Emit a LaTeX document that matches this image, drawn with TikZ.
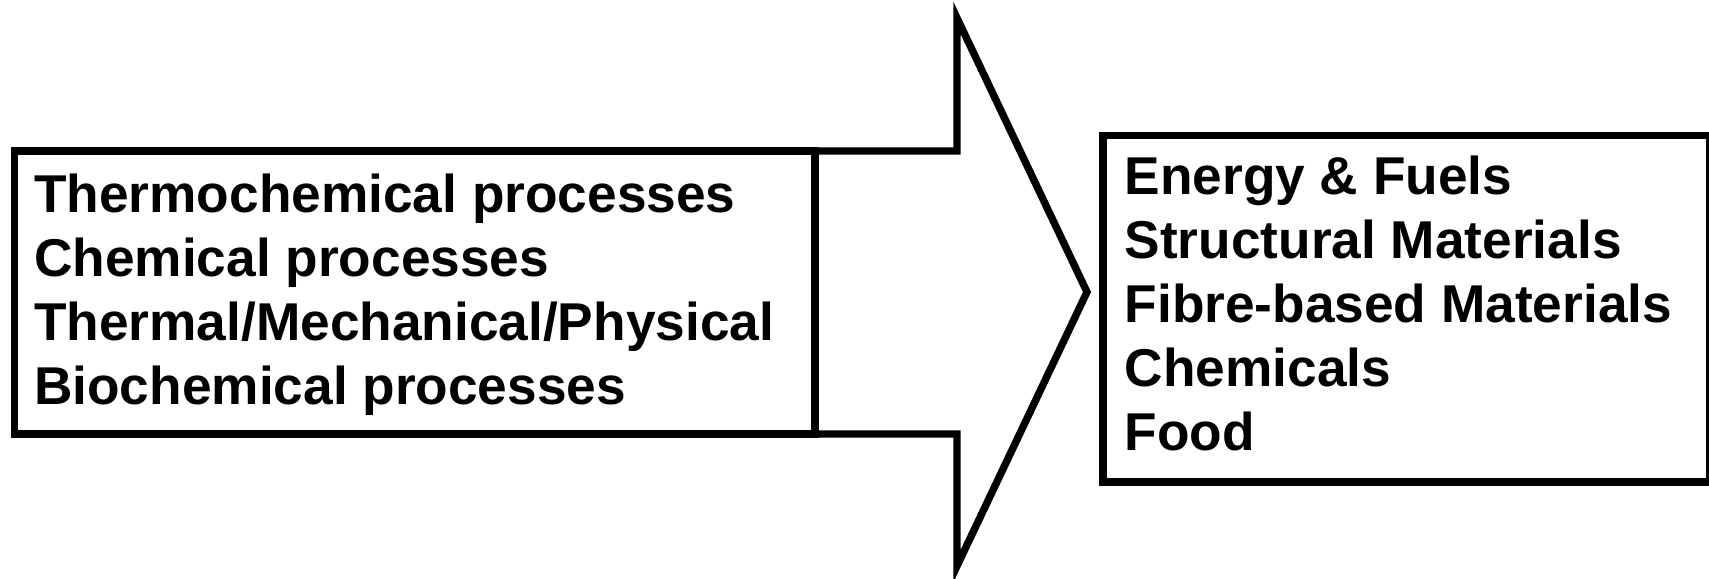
\documentclass[tikz,border=0pt]{standalone}
\usepackage{fontspec}
\setmainfont{Liberation Sans}
\usepackage{tikz}

\tikzset{
  frame/.style={draw, line width=4.2pt, rectangle, inner sep=0pt, outer sep=0pt},
  entry/.style={inner sep=0pt, font=\fontsize{30.3}{36}\selectfont\bfseries},
}

\begin{document}
\begin{tikzpicture}[line width=4.2pt, miter limit=10]
\useasboundingbox (0,0) rectangle (34.18,11.58);

\node[frame, anchor=south west, minimum width=16.01cm, minimum height=5.66cm] (proc) at (0.29,2.90) {};
\node[frame, anchor=south west, minimum width=12.14cm, minimum height=6.93cm] (prod) at (22.06,1.94) {};

% block arrow between the two frames
\coordinate (shtop) at (19.14,8.56);
\coordinate (headtop) at (19.14,11.22);
\coordinate (tip) at (21.74,5.74);
\coordinate (headbot) at (19.14,0.26);
\coordinate (shbot) at (19.14,2.90);
\draw[line join=miter] (proc.north east) -- (shtop) -- (headtop) -- (tip) -- (headbot) -- (shbot) -- (proc.south east);

\node[entry, anchor=base west] (p1) at (0.61,7.32) {Thermochemical processes};
\node[entry, anchor=base west] (p2) at (0.61,6.04) {Chemical processes};
\node[entry, anchor=base west] (p3) at (0.61,4.76) {Thermal/Mechanical/Physical};
\node[entry, anchor=base west] (p4) at (0.61,3.48) {Biochemical processes};

\node[entry, anchor=base west] (q1) at (22.42,7.68) {Energy \& Fuels};
\node[entry, anchor=base west] (q2) at (22.42,6.40) {Structural Materials};
\node[entry, anchor=base west] (q3) at (22.42,5.12) {Fibre-based Materials};
\node[entry, anchor=base west] (q4) at (22.42,3.84) {Chemicals};
\node[entry, anchor=base west] (q5) at (22.42,2.56) {Food};
\end{tikzpicture}
\end{document}
